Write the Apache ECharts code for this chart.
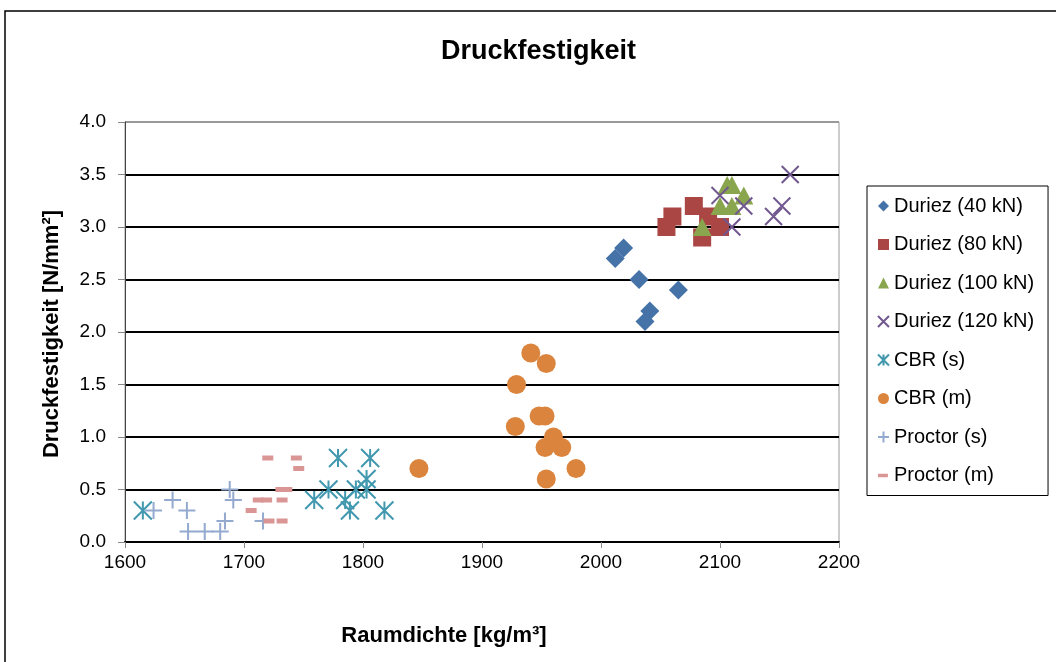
<!DOCTYPE html>
<html>
<head>
<meta charset="utf-8">
<title>Druckfestigkeit</title>
<script src="https://cdn.jsdelivr.net/npm/echarts@6/dist/echarts.min.js"></script>
<style>
  html, body { margin: 0; padding: 0; background: #fff; }
  #chart { width: 1056px; height: 662px; }
</style>
</head>
<body>
<div id="chart"></div>
<script>
const FONT = '"Liberation Sans", Arial, sans-serif'

// Raumdichte [kg/m³] / Druckfestigkeit [N/mm²] per series
const duriez40X = [2012, 2019, 2032, 2041, 2037, 2065]
const duriez40Y = [2.7, 2.8, 2.5, 2.2, 2.1, 2.4]
const duriez80X = [2055, 2060, 2078, 2090, 2085, 2100]
const duriez80Y = [3.0, 3.1, 3.2, 3.1, 2.9, 3.0]
const duriez100X = [2106, 2110, 2120, 2100, 2110, 2085]
const duriez100Y = [3.4, 3.4, 3.3, 3.2, 3.2, 3.0]
const duriez120X = [2100, 2120, 2110, 2159, 2152, 2145]
const duriez120Y = [3.3, 3.2, 3.0, 3.5, 3.2, 3.1]
const cbrSX = [1615, 1759, 1771, 1779, 1806, 1803, 1794, 1803, 1785, 1789, 1818]
const cbrSY = [0.3, 0.4, 0.5, 0.8, 0.8, 0.6, 0.5, 0.5, 0.4, 0.3, 0.3]
const cbrMX = [1847, 1928, 1941, 1954, 1929, 1948, 1953, 1960, 1953, 1967, 1979, 1954]
const cbrMY = [0.7, 1.1, 1.8, 1.7, 1.5, 1.2, 1.2, 1.0, 0.9, 0.9, 0.7, 0.6]
const proctorSX = [1624, 1640, 1652, 1653, 1667, 1680, 1684, 1688, 1691, 1716]
const proctorSY = [0.3, 0.4, 0.3, 0.1, 0.1, 0.1, 0.2, 0.5, 0.4, 0.2]
const proctorMX = [1720, 1744, 1746, 1731, 1736, 1712, 1719, 1732, 1706, 1721, 1732]
const proctorMY = [0.8, 0.8, 0.7, 0.5, 0.5, 0.4, 0.4, 0.4, 0.3, 0.2, 0.2]

const yTicks = ['0.0', '0.5', '1.0', '1.5', '2.0', '2.5', '3.0', '3.5', '4.0']
const xTicks = ['1600', '1700', '1800', '1900', '2000', '2100', '2200']

const X_PATH = 'path://M0,0L10,10M10,0L0,10'
const STAR_PATH = 'path://M0,0L10,10M10,0L0,10M5,0L5,10'
const PLUS_PATH = 'path://M5,0L5,10M0,5L10,5'
// small bar inside a 10x10 box, for the legend icon
const DASH_ICON = 'path://M0,0L0.01,0M10,10L9.99,10M0,3.5L9,3.5L9,6.5L0,6.5Z'

const pairs = (xs, ys) => xs.map((x, i) => [x, ys[i]])

const seriesDefs = [
  { name: 'Duriez (40 kN)', xs: duriez40X, ys: duriez40Y, symbol: 'diamond', size: 19, color: '#4572A7' },
  { name: 'Duriez (80 kN)', xs: duriez80X, ys: duriez80Y, symbol: 'rect', size: 18, color: '#AA4643' },
  { name: 'Duriez (100 kN)', xs: duriez100X, ys: duriez100Y, symbol: 'triangle', size: [19, 18], color: '#89A54E' },
  { name: 'Duriez (120 kN)', xs: duriez120X, ys: duriez120Y, symbol: X_PATH, size: 17, color: '#71588F', line: true },
  { name: 'CBR (s)', xs: cbrSX, ys: cbrSY, symbol: STAR_PATH, size: 18, color: '#4198AF', line: true },
  { name: 'CBR (m)', xs: cbrMX, ys: cbrMY, symbol: 'circle', size: 19, color: '#DB843D' },
  { name: 'Proctor (s)', xs: proctorSX, ys: proctorSY, symbol: PLUS_PATH, size: 17, color: '#93A9CF', line: true },
  { name: 'Proctor (m)', xs: proctorMX, ys: proctorMY, symbol: 'rect', size: [11, 5], color: '#D99694', icon: DASH_ICON },
]

const chart = echarts.init(document.getElementById('chart'), null, { renderer: 'canvas' })

const option = {
  backgroundColor: '#fff',
  animation: false,
  title: {
    text: 'Druckfestigkeit',
    left: 436,
    top: 33,
    textStyle: { fontFamily: FONT, fontSize: 27, fontWeight: 'bold', color: '#000' },
  },
  legend: {
    orient: 'vertical',
    left: 867,
    top: 186,
    padding: [10, 14, 10, 10],
    borderColor: '#000',
    borderWidth: 1,
    itemWidth: 11,
    itemHeight: 11,
    itemGap: 18.5,
    textStyle: { fontFamily: FONT, fontSize: 20, color: '#000', lineHeight: 17 },
    data: seriesDefs.map(d => (d.icon ? { name: d.name, icon: d.icon } : { name: d.name })),
  },
  grid: {
    left: 125, right: 217, top: 122, bottom: 120,
    show: true, borderColor: '#999', borderWidth: 1,
  },
  xAxis: {
    type: 'value',
    min: 1600, max: 2200, interval: 100,
    axisLine: { lineStyle: { color: '#000', width: 2 } },
    axisTick: { show: true, length: 6, lineStyle: { color: '#888' } },
    axisLabel: {
      color: '#000', fontFamily: FONT, fontSize: 19, margin: 11,
      formatter: (v, i) => xTicks[i],
    },
    splitLine: { show: false },
  },
  yAxis: {
    type: 'value',
    min: 0, max: 4, interval: 0.5,
    axisLine: { show: true, lineStyle: { color: '#444', width: 1 } },
    axisTick: { show: true, length: 7, lineStyle: { color: '#888' } },
    axisLabel: {
      color: '#000', fontFamily: FONT, fontSize: 19, margin: 19,
      formatter: (v, i) => yTicks[i],
    },
    splitLine: {
      lineStyle: { color: ['#000', '#000', '#000', '#000', '#000', '#000', '#000', '#000', '#999'], width: 2 },
    },
  },
  graphic: [
    {
      type: 'rect', silent: true, z: -10,
      shape: { x: 5, y: 11, width: 1200, height: 800 },
      style: { fill: 'none', stroke: '#000', lineWidth: 1.5 },
    },
    {
      type: 'text', x: 444, y: 636,
      style: {
        text: 'Raumdichte [kg/m³]', align: 'center', verticalAlign: 'middle',
        font: `bold 22px ${FONT}`, fill: '#000',
      },
    },
    {
      type: 'text', x: 52, y: 334, rotation: Math.PI / 2,
      style: {
        text: 'Druckfestigkeit [N/mm²]', align: 'center', verticalAlign: 'middle',
        font: `bold 22px ${FONT}`, fill: '#000',
      },
    },
  ],
  series: seriesDefs.map(d => ({
    name: d.name,
    type: 'scatter',
    symbol: d.symbol,
    symbolSize: d.size,
    itemStyle: d.line
      ? { color: d.color, borderColor: d.color, borderWidth: 2, opacity: 1 }
      : { color: d.color, opacity: 1 },
    data: pairs(d.xs, d.ys),
  })),
}

chart.setOption(option)
window.addEventListener('resize', () => chart.resize())
</script>
</body>
</html>
